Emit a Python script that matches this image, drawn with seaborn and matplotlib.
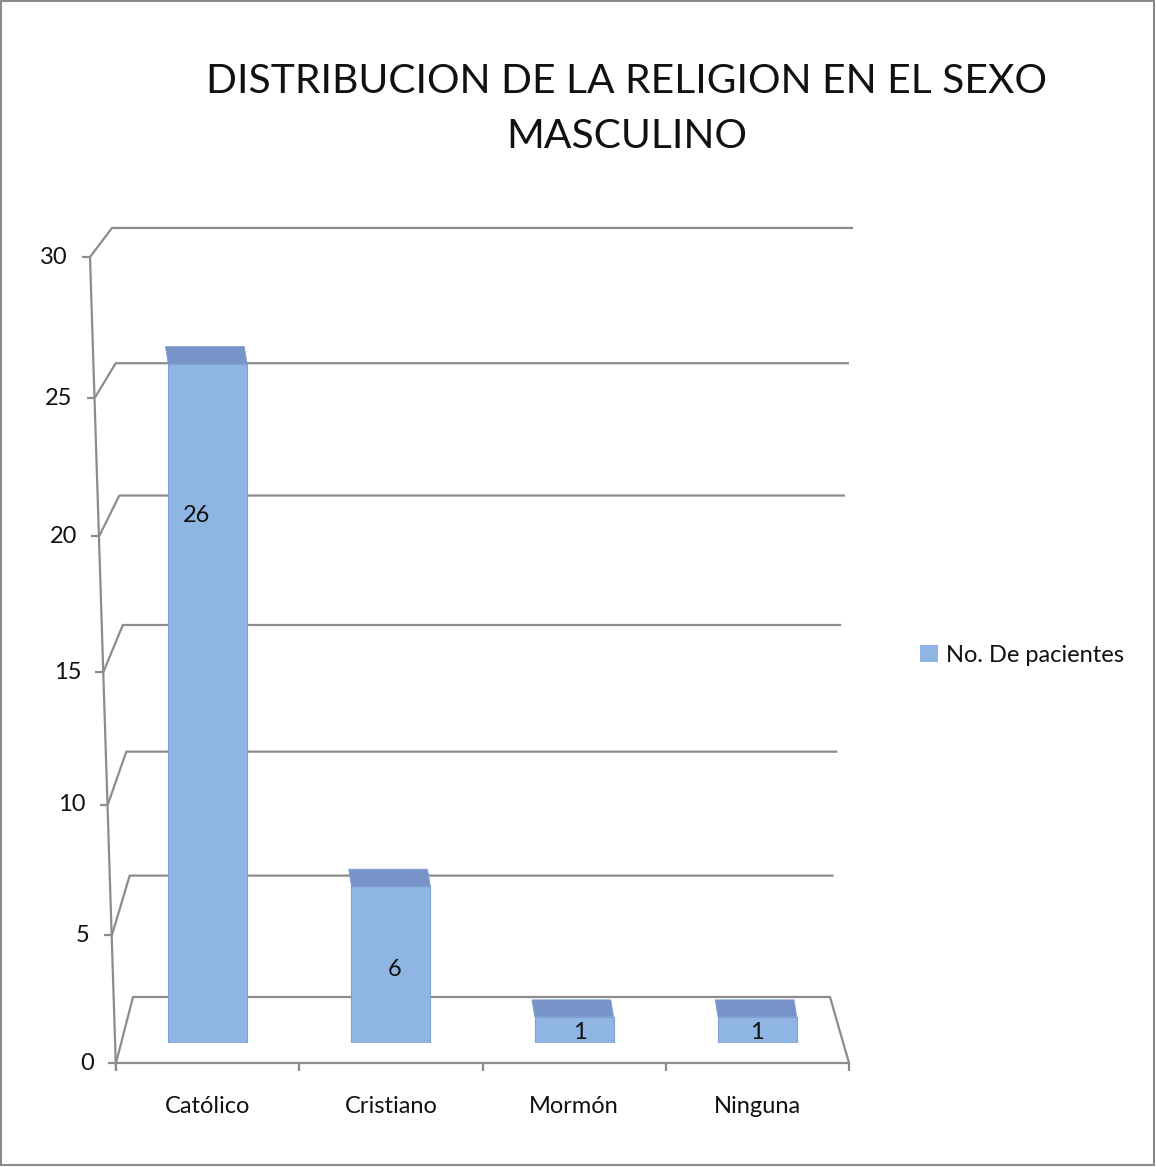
import matplotlib
matplotlib.use("Agg")
import matplotlib.pyplot as plt
from matplotlib.transforms import Affine2D
from matplotlib.patches import Polygon, Patch, Rectangle
from matplotlib.lines import Line2D
import seaborn as sns
import pandas as pd

# ---- data ----
religiones = ["Católico", "Cristiano", "Mormón", "Ninguna"]
pacientes = [26, 6, 1, 1]
serie = "No. De pacientes"
y_ticks = [0, 5, 10, 15, 20, 25, 30]
titulo = "DISTRIBUCION DE LA RELIGION EN EL SEXO\nMASCULINO"

# ---- layout / style ----
W, H, DPI = 1156, 1167, 100
BAR_COLOR = "#8fb5e3"
BAR_EDGE = "#7d9fd0"
TOP_COLOR = "#7794c8"
GRID_COLOR = "#8c8c8c"
TEXT_COLOR = "#111111"
FS = 17
label_y = [20.2, 2.8, 0.4, 0.4]        # vertical spot of each value label
label_dx = [-0.06, 0.02, 0.03, 0.0]    # small horizontal nudge of each value label

sns.set_theme(style="white")
plt.rcParams["font.family"] = ["Lato", "DejaVu Sans"]

fig = plt.figure(figsize=(W / DPI, H / DPI), dpi=DPI)
fig.patch.set_facecolor("white")
# pixel coordinates with origin at the top-left corner of the canvas
px = Affine2D().scale(1 / W, -1 / H).translate(0, 1) + fig.transFigure

# plotting box: bars stand on y=1043px, value 30 reaches y=259px
L, R, BASE, TOP = 116, 849, 1043, 259
ax = fig.add_axes([L / W, (H - BASE) / H, (R - L) / W, (BASE - TOP) / H])
ax.set_facecolor("none")

df = pd.DataFrame({"religion": religiones, "pacientes": pacientes})
sns.barplot(data=df, x="religion", y="pacientes", color=BAR_COLOR,
            saturation=1, width=0.43, edgecolor=BAR_EDGE, linewidth=0.8,
            zorder=3, ax=ax)
ax.set_xlim(-0.5, 3.5)
ax.set_ylim(0, 30)
for s in ax.spines.values():
    s.set_visible(False)
ax.set_yticks([])
ax.set_xlabel("")
ax.set_ylabel("")
ax.tick_params(axis="x", length=0, pad=38, labelsize=FS, labelcolor=TEXT_COLOR)

# darker top face on each bar to give the columns some depth
for p in list(ax.patches):
    x0, w, h = p.get_x(), p.get_width(), p.get_height()
    dx, dy = -0.015, 0.65
    ax.add_patch(Polygon([(x0, h), (x0 + w, h), (x0 + w + dx, h + dy), (x0 + dx, h + dy)],
                         closed=True, facecolor=TOP_COLOR, edgecolor=BAR_EDGE,
                         linewidth=0.6, zorder=3, clip_on=False))

# value labels
for i, v in enumerate(pacientes):
    ax.text(i + label_dx[i], label_y[i], str(v), ha="center", va="center",
            fontsize=FS, color=TEXT_COLOR, zorder=5)


# ---- perspective walls: front axis, back-wall gridlines and floor ----
def front_y(v):
    return 1063 - 25.31 * v / (1 - 0.001929 * v)


def back_y(v):
    return 997 - 24.02 * v / (1 - 0.0021 * v)


def front_x(v):
    return 116 - 26 * (1063 - front_y(v)) / 806


def back_lx(v):
    return 133 - 21 * (997 - back_y(v)) / 769


def back_rx(v):
    return 830 + 23 * (997 - back_y(v)) / 769


line_kw = dict(color=GRID_COLOR, linewidth=1.6, transform=px, clip_on=False,
               zorder=0.5, solid_capstyle="butt")

for v in y_ticks:
    xs = [front_x(v), back_lx(v), back_rx(v)]
    ys = [front_y(v), back_y(v), back_y(v)]
    if v == 0:
        xs += [R, front_x(0)]
        ys += [front_y(0), front_y(0)]
    ax.add_line(Line2D(xs, ys, **line_kw))
    # tick mark and label on the slanted front axis
    ax.add_line(Line2D([front_x(v) - 8, front_x(v)], [front_y(v), front_y(v)], **line_kw))
    ax.text(front_x(v) - 22, front_y(v), str(v), transform=px, ha="right",
            va="center", fontsize=FS, color=TEXT_COLOR)

# front (slanted) value axis
ax.add_line(Line2D([front_x(0), front_x(30)], [front_y(0) + 8, front_y(30)], **line_kw))

# category boundary ticks under the floor
step = (R - L) / len(religiones)
for k in range(len(religiones) + 1):
    xk = L + k * step
    ax.add_line(Line2D([xk, xk], [front_y(0), front_y(0) + 8], **line_kw))

# ---- legend ----
ax.legend(handles=[Patch(facecolor=BAR_COLOR, edgecolor="none", label=serie)],
          loc="center left", bbox_to_anchor=(920, 655), bbox_transform=px,
          frameon=False, fontsize=FS, handlelength=0.75, handleheight=0.75,
          handletextpad=0.35, borderaxespad=0, borderpad=0,
          labelcolor=TEXT_COLOR)

# ---- title ----
fig.text(627, 109, titulo, transform=px, ha="center", va="center",
         fontsize=29.3, linespacing=1.58, color=TEXT_COLOR)

# ---- outer frame ----
fig.add_artist(Rectangle((1, 1), W - 3, H - 3, transform=px, fill=False,
                         edgecolor="#8a8a8a", linewidth=1.5))

fig.savefig("out.png", dpi=DPI)
